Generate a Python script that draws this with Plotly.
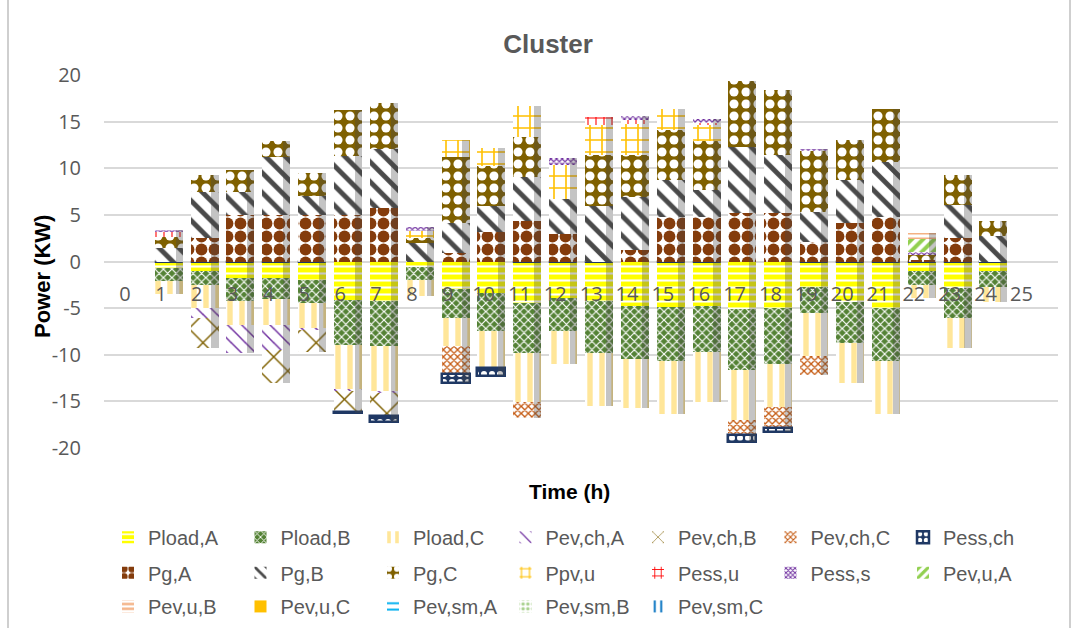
import numpy as np
import plotly.graph_objects as go

hours = list(range(1, 25))
tick_labels = [str(i) for i in range(0, 26)]
y_ticks = list(range(-20, 21, 5))
y_tick_labels = [str(v) for v in y_ticks]

# negative side (consumption)
P_load_A = [-0.7, -1.07, -1.8, -1.8, -2.0, -4.1, -4.2, -0.6, -3.0, -3.4, -4.5, -3.9, -4.2, -4.75, -4.9, -4.8, -5.1, -5.0, -2.7, -4.3, -5.0, -1.0, -2.85, -1.0]
P_load_B = [-1.4, -1.5, -2.4, -2.25, -2.5, -4.8, -4.85, -1.4, -3.1, -4.1, -5.3, -3.6, -5.6, -5.7, -5.8, -4.9, -6.5, -6.0, -2.85, -4.45, -5.7, -1.5, -3.2, -1.7]
P_load_C = [-1.4, -2.4, -2.6, -2.75, -2.7, -4.8, -4.9, -1.7, -3.0, -3.9, -5.25, -3.5, -5.7, -5.3, -5.7, -5.4, -5.4, -4.6, -4.6, -4.3, -5.7, -1.4, -3.2, -1.6]
P_ev_ch_A = [0, -1.07, -3.0, -2.7, -0.15, -0.15, -0.15, 0, 0, 0, 0, 0, 0, 0, 0, 0, 0, 0, 0, 0, 0, 0, 0, 0]
P_ev_ch_B = [0, -3.2, 0, -3.5, -2.3, -2.3, -2.5, 0, 0, 0, 0, 0, 0, 0, 0, 0, 0, 0, 0, 0, 0, 0, 0, 0]
P_ev_ch_C = [0, 0, 0, 0, 0, 0, 0, 0, -3.0, 0, -1.7, 0, 0, 0, 0, 0, -1.6, -2.3, -2.0, 0, 0, 0, 0, 0]
P_ess_ch = [0, 0, 0, 0, 0, -0.12, -0.6, None, -0.9, -0.9, 0, 0, 0, None, 0, 0, -0.7, -0.35, 0, 0, 0, 0, 0, 0]

# positive side (supply)
P_g_A = [0, 2.5, 5.0, 5.0, 5.0, 5.0, 5.7, 0, 0.9, 3.2, 4.3, 2.9, 0, 1.25, 4.8, 4.8, 5.2, 5.2, 2.1, 4.1, 4.8, 0.15, 2.5, 0]
P_g_B = [1.4, 5.0, 2.5, 6.25, 2.0, 6.3, 6.4, 2.0, 3.2, 2.7, 4.75, 3.8, 5.9, 5.7, 3.9, 2.9, 7.1, 6.25, 3.2, 4.6, 5.9, 0, 3.6, 2.7]
P_g_C = [1.25, 1.8, 2.3, 1.7, 2.5, 4.9, 4.9, 0.55, 7.1, 4.3, 4.35, 0, 5.5, 4.5, 5.4, 5.2, 7.0, 6.9, 6.6, 4.35, 5.6, 0.55, 3.2, 1.6]
P_pv_u = [0, 0, 0, 0, 0, 0, 0, 0.7, 1.8, 2.0, 3.3, 3.6, 3.2, 3.3, 2.3, 1.8, 0, 0, 0, 0, 0, 0, 0, 0]
P_ess_u = [0.6, 0, 0, 0, 0, 0, 0, 0, 0, 0, 0, 0, 0.9, 0.4, 0, 0.2, 0, 0, 0, 0, 0, 0, 0, 0]
P_ess_s = [0.15, 0, 0, 0, 0, 0, 0, 0.4, 0, 0, 0, 0.75, 0, 0.4, 0, 0.35, 0, 0, 0.2, 0, 0, 0.35, 0, 0]
P_ev_u_A = [0, 0, 0, 0, 0, 0, 0, 0, 0, 0, 0, 0, 0, 0, 0, 0, 0, 0, 0, 0, 0, 1.4, 0, 0]
P_ev_u_B = [0, 0, 0, 0, 0, 0, 0, 0, 0, 0, 0, 0, 0, 0, 0, 0, 0, 0, 0, 0, 0, 0.65, 0, 0]
P_ev_u_C = [0] * 24
P_ev_sm_A = [0] * 24
P_ev_sm_B = [0] * 24
P_ev_sm_C = [0] * 24

series = [
    # name, values, bg color, pattern shape, fg color, size, solidity, legend
    ("Pload,A", P_load_A, "#FFFF00", "-", "#FFFFFF", 7, 0.3, "legend"),
    ("Pload,B", P_load_B, "#548235", "x", "#FFFFFF", 6, 0.35, "legend"),
    ("Pload,C", P_load_C, "#FFFFFF", "|", "#FFE699", 12, 0.45, "legend"),
    ("Pev,ch,A", P_ev_ch_A, "#FFFFFF", "\\", "#7030A0", 10, 0.15, "legend"),
    ("Pev,ch,B", P_ev_ch_B, "#FFFFFF", "x", "#7F6000", 20, 0.14, "legend"),
    ("Pev,ch,C", P_ev_ch_C, "#FFFFFF", "x", "#C55A11", 5, 0.45, "legend"),
    ("Pess,ch", P_ess_ch, "#1F3864", ".", "#FFFFFF", 8, 0.45, "legend"),
    ("Pg,A", P_g_A, "#FFFFFF", ".", "#843C0C", 13, 0.65, "legend2"),
    ("Pg,B", P_g_B, "#FFFFFF", "\\", "#4A4A4A", 14, 0.35, "legend2"),
    ("Pg,C", P_g_C, "#7F6000", ".", "#FFFFFF", 12, 0.45, "legend2"),
    ("Ppv,u", P_pv_u, "#FFFFFF", "+", "#FFC000", 12, 0.25, "legend2"),
    ("Pess,u", P_ess_u, "#FFFFFF", "+", "#FF0000", 8, 0.25, "legend2"),
    ("Pess,s", P_ess_s, "#FFFFFF", "x", "#7030A0", 4, 0.5, "legend2"),
    ("Pev,u,A", P_ev_u_A, "#FFFFFF", "/", "#92D050", 8, 0.5, "legend2"),
    ("Pev,u,B", P_ev_u_B, "#FFFFFF", "-", "#F4B183", 6, 0.5, "legend3"),
    ("Pev,u,C", P_ev_u_C, "#FFC000", "", "#FFC000", 8, 0.3, "legend3"),
    ("Pev,sm,A", P_ev_sm_A, "#FFFFFF", "-", "#00B0F0", 8, 0.3, "legend3"),
    ("Pev,sm,B", P_ev_sm_B, "#FFFFFF", ".", "#A9D18E", 6, 0.4, "legend3"),
    ("Pev,sm,C", P_ev_sm_C, "#FFFFFF", "|", "#0070C0", 8, 0.3, "legend3"),
]

BAR_W = 0.78
BAR_OFF = -0.17

fig = go.Figure()
for name, vals, bg, shape, fg, size, sol, leg in series:
    is_ess = name == "Pess,ch"
    fig.add_trace(go.Bar(
        x=hours, y=vals, name=name, legend=leg,
        width=BAR_W, offset=BAR_OFF,
        marker=dict(
            color=bg,
            pattern=dict(shape=shape, fgcolor=fg, bgcolor=bg, size=size, solidity=sol, fillmode="replace"),
            line=dict(color="#1F3864" if is_ess else bg, width=2.5 if is_ess else 0),
        ),
    ))

# right-side shading of each column, derived from the stacked totals
def tot(arrs, sign):
    a = np.array([[0 if v is None else v for v in arr] for arr in arrs], dtype=float)
    return (a.clip(min=0) if sign > 0 else a.clip(max=0)).sum(axis=0)

pos_tot = tot([s[1] for s in series], 1)
neg_tot = tot([s[1] for s in series], -1)
for t in (pos_tot, neg_tot):
    fig.add_trace(go.Bar(x=hours, y=t, xaxis="x2", width=0.2, offset=0.41,
                         marker=dict(color="rgba(70,70,70,0.32)", line=dict(width=0)),
                         showlegend=False, hoverinfo="skip"))

XR = [-0.586, 26.02]
tickfont = dict(family="Open Sans", size=20, color="#595959")
legfont = dict(family="Liberation Sans, Arial", size=20, color="#595959")
LX = (108 - 104) / 954

fig.update_layout(
    width=1078, height=628,
    paper_bgcolor="white", plot_bgcolor="white",
    barmode="relative", bargap=0,
    margin=dict(l=104, r=20, t=74, b=179, autoexpand=False),
    title=dict(text="Cluster", x=0.5084, xref="container", xanchor="center",
               y=1 - 44 / 628, yref="container", yanchor="middle",
               font=dict(family="Liberation Sans, Arial", size=26, color="#595959", weight="bold")),
    xaxis=dict(range=XR, tickmode="array", tickvals=list(range(0, 26)), ticktext=tick_labels,
               anchor="free", position=0.5, showgrid=False, zeroline=False, showline=False,
               ticks="outside", ticklen=14, tickcolor="rgba(0,0,0,0)", tickfont=tickfont),
    xaxis2=dict(range=XR, overlaying="x", visible=False),
    yaxis=dict(range=[-20.1, 20.1], tickmode="array", tickvals=y_ticks, ticktext=y_tick_labels,
               showgrid=True, gridcolor="#D9D9D9", gridwidth=1.5, zeroline=False, showline=False,
               ticks="outside", ticklen=18, tickcolor="rgba(0,0,0,0)", tickfont=tickfont),
    legend=dict(orientation="h", x=LX, xanchor="left", y=-0.235, yanchor="middle",
                entrywidth=87.5, font=legfont, bgcolor="rgba(0,0,0,0)"),
    legend2=dict(orientation="h", x=LX, xanchor="left", y=-0.330, yanchor="middle",
                 entrywidth=87.5, font=legfont, bgcolor="rgba(0,0,0,0)"),
    legend3=dict(orientation="h", x=LX, xanchor="left", y=-0.4198, yanchor="middle",
                 entrywidth=87.5, font=legfont, bgcolor="rgba(0,0,0,0)"),
    showlegend=True,
)

fig.add_annotation(text="Power (KW)", textangle=-90, xref="paper", yref="paper",
                   x=(42 - 104) / 954, y=(449 - 277) / 375, xanchor="center", yanchor="middle",
                   showarrow=False, font=dict(family="Liberation Sans, Arial", size=22, color="#000000", weight="bold"))
fig.add_annotation(text="Time (h)", xref="paper", yref="paper",
                   x=(569 - 104) / 954, y=(449 - 491) / 375, xanchor="center", yanchor="middle",
                   showarrow=False, font=dict(family="Liberation Sans, Arial", size=21, color="#000000", weight="bold"))

# chart-area frame edges
for xp in ((8 - 104) / 954, (1070 - 104) / 954):
    fig.add_shape(type="line", xref="paper", yref="paper", x0=xp, x1=xp,
                  y0=(449 - 628) / 375, y1=449 / 375, line=dict(color="#BFBFBF", width=1.5))

fig.write_html("out.html")
